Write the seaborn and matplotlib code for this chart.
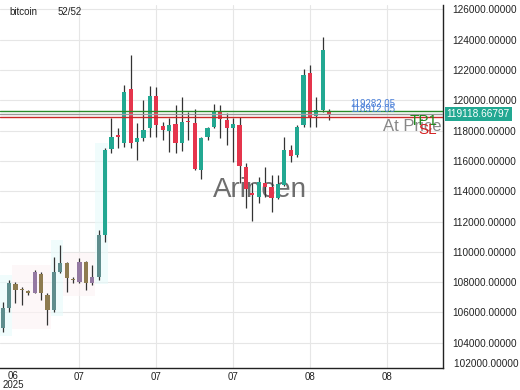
import numpy as np
import pandas as pd
import matplotlib
matplotlib.use("Agg")
import matplotlib.pyplot as plt
import matplotlib.transforms as mtransforms
import seaborn as sns

# =========================
# DATA
# =========================

opens = [104979, 106299, 107883, 107487, 107421, 107289, 108543, 107157, 106167, 108675,
         109269, 108213, 108015, 109335, 107949, 108345, 111117, 116793, 117684, 117189,
         120753, 117255, 117519, 118159, 120291, 118311, 117981, 118443, 117209, 118608,
         118529, 115407, 117565, 118265, 119255, 118707, 118199, 118377, 115627, 113889,
         113645, 114569, 114305, 113539, 114417, 116727, 116397, 118344, 121789, 118971,
         119367, 119250]
highs = [106695, 108147, 108015, 107685, 107487, 108807, 108650, 107250, 109685, 110457,
         109330, 108345, 109599, 109400, 109137, 111447, 116859, 118839, 118179, 121017,
         122997, 118509, 120027, 120951, 120905, 118595, 118839, 119697, 120245, 119255,
         119433, 117600, 118265, 119763, 119697, 119149, 118819, 118885, 115889, 114549,
         114965, 115625, 115077, 115077, 117605, 117057, 118377, 122073, 122304, 120225,
         124165, 119400]
lows = [104715, 106035, 106629, 106497, 107157, 107269, 106827, 105177, 106055, 108600,
        107355, 107949, 107949, 107487, 107817, 108147, 110655, 116529, 116859, 116945,
        116839, 116067, 117341, 117605, 117605, 117387, 116615, 116529, 116681, 117387,
        115407, 114813, 117387, 118159, 117499, 117057, 115955, 114529, 112879, 112041,
        113209, 113645, 112655, 113480, 114350, 115955, 116285, 118265, 118265, 118265,
        119235, 118700]
closes = [106299, 107949, 107487, 107454, 107309, 108675, 107289, 106167, 108675, 109269,
          108279, 108147, 109335, 107949, 108345, 111117, 116727, 117585, 117585, 120555,
          117189, 117519, 118047, 120291, 118377, 118047, 118377, 117189, 118595, 118542,
          115453, 117519, 118179, 119255, 118753, 118199, 118443, 115671, 114153, 113757,
          114635, 114305, 113539, 114483, 116727, 116331, 118265, 121644, 118925, 119367,
          123327, 119118.66797]

# faint overlay zones over the first candles (candle index ranges)
zone_start = [0, 2, 8, 10, 15]
zone_end = [1, 7, 9, 14, 16]
zone_kind = ["cyan", "pink", "cyan", "pink", "cyan"]

tick_pos = [12, 24, 36, 48, 60]
tick_labels = ["07", "07", "07", "08", "08"]
first_label = "06\n2025"

y_ticks = list(range(104000, 126001, 2000))
last_price = 119118.66797
tp1_price = 119282.05
sl_price = 118912.05

df = pd.DataFrame({"open": opens, "high": highs, "low": lows, "close": closes})
df["idx"] = np.arange(len(df))

# =========================
# STYLE
# =========================

sns.set_theme(style="white")
plt.rcParams["font.family"] = ["Liberation Sans", "DejaVu Sans"]

UP = "#22a892"
DOWN = "#e5354c"

fig = plt.figure(figsize=(5.2, 3.9), dpi=100)
ax = fig.add_axes([0.0, 0.0564, 0.852, 0.931])

# =========================
# GRID + ZONES
# =========================

for y in y_ticks:
    ax.axhline(y, color="#e6e6e6", lw=0.8, zorder=0)
for x in tick_pos:
    ax.axvline(x, color="#e6e6e6", lw=0.8, zorder=0)

zone_of = {}
for s, e, k in zip(zone_start, zone_end, zone_kind):
    sub = df.iloc[s:e + 1]
    fc = "#e6fbfb" if k == "cyan" else "#fdf2f4"
    ax.add_patch(plt.Rectangle((s - 0.5, sub["low"].min() - 300), e - s + 1,
                               sub["high"].max() - sub["low"].min() + 600,
                               facecolor=fc, edgecolor="none", alpha=0.6, zorder=0.5))
    for i in range(s, e + 1):
        zone_of[i] = k

# watermark
ax.text(40.2, 114050, "Arincen", fontsize=20, color="#555555", alpha=0.85,
        ha="center", va="center", zorder=1)

# =========================
# CANDLES
# =========================

def candle_color(row):
    i = int(row["idx"])
    up = row["close"] >= row["open"]
    if i < 16 and i in zone_of:
        if not up:
            return "#8d7b50"
        return "#5f8d8d" if zone_of[i] == "cyan" else "#9479a2"
    return UP if up else DOWN

colors = df.apply(candle_color, axis=1)
ax.vlines(df["idx"], df["low"], df["high"], color="#333333", lw=0.9, zorder=2)
body_low = df[["open", "close"]].min(axis=1)
body_h = (df["close"] - df["open"]).abs().clip(lower=60)
ax.bar(df["idx"], body_h, bottom=body_low, width=0.66, color=colors,
       edgecolor="none", zorder=3)

# =========================
# LEVEL LINES + LABELS
# =========================

ax.axhline(tp1_price, color="#2a8a2a", lw=1.0, zorder=4)
ax.axhline(last_price, color="#9a9a9a", lw=1.0, zorder=4)
ax.axhline(sl_price, color="#c82828", lw=1.0, zorder=4)

trans = mtransforms.blended_transform_factory(ax.transAxes, ax.transData)
ax.text(0.79, 119763, "%.2f" % tp1_price, transform=trans, fontsize=7,
        color="#4a7fd8", va="center", zorder=5)
ax.text(0.79, 119433, "%.2f" % sl_price, transform=trans, fontsize=7,
        color="#4a7fd8", va="center", zorder=5)
ax.text(0.864, 118245, "At Price", transform=trans, fontsize=12,
        color="#888888", va="center", zorder=5)
ax.text(0.925, 118660, "TP1", transform=trans, fontsize=11,
        color="#1f8a1f", va="center", zorder=6)
ax.text(0.944, 118030, "SL", transform=trans, fontsize=11,
        color="#d42020", va="center", zorder=6)

ax.text(1.008, last_price, "%.5f" % last_price, transform=trans, fontsize=7.3,
        color="white", va="center", ha="left", zorder=6, clip_on=False,
        bbox=dict(boxstyle="square,pad=0.2", facecolor="#22a892", edgecolor="none"))
ax.text(1.0, 102600, "    102000.00000", transform=trans, fontsize=7.2,
        color="#222222", va="center", ha="left", clip_on=False)

# =========================
# AXES
# =========================

ax.set_xlim(-0.42, 68.8)
ax.set_ylim(102330, 126300)
ax.yaxis.tick_right()
ax.set_yticks(y_ticks)
ax.set_yticklabels(["%.5f" % v for v in y_ticks])
ax.set_xticks(tick_pos)
ax.set_xticklabels(tick_labels)
ax.tick_params(axis="y", length=0, pad=7, labelsize=7.2, labelcolor="#222222")
ax.tick_params(axis="x", length=0, pad=3, labelsize=7, labelcolor="#222222")
ax.text(1.66, 102330, first_label, fontsize=7, color="#222222", ha="center",
        va="top", linespacing=0.95, clip_on=False,
        transform=ax.transData + mtransforms.ScaledTranslation(0, -2 / 72, fig.dpi_scale_trans))

for side in ["top", "left"]:
    ax.spines[side].set_visible(False)
for side in ["right", "bottom"]:
    ax.spines[side].set_color("#222222")
    ax.spines[side].set_linewidth(1.0)

fig.text(9 / 520, 1 - 12 / 390, "bitcoin", fontsize=7, color="#222222", va="center")
fig.text(58 / 520, 1 - 12 / 390, "52/52", fontsize=7, color="#222222", va="center")

fig.savefig("out.png", dpi=100)
